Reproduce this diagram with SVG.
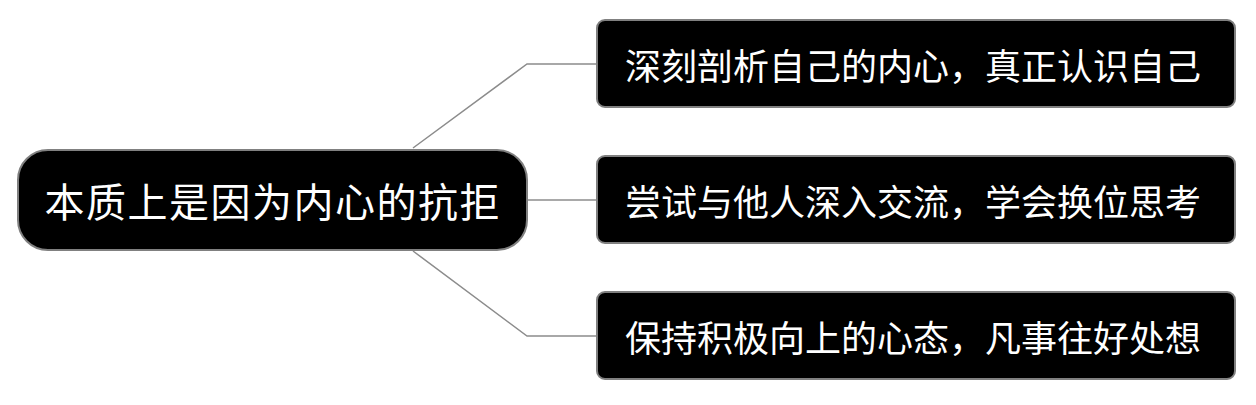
<svg xmlns="http://www.w3.org/2000/svg" width="1256" height="405" viewBox="0 0 1256 405">
<style>
.box{fill:#000;stroke:#808080;stroke-width:2}
.t{fill:#fff;font-family:"Noto Sans CJK SC","Noto Sans CJK JP",sans-serif;text-anchor:middle;dominant-baseline:central}
.c{fill:none;stroke:#8c8c8c;stroke-width:1.5}
</style>
<rect width="1256" height="405" fill="#fff"/>
<g id="connectors">
<polyline class="c" points="413,148 527,64 597,64"/>
<polyline class="c" points="527,200 597,200"/>
<polyline class="c" points="413,251 527,336 597,336"/>
</g>
<g id="root">
<rect class="box" x="18" y="150" width="509" height="100" rx="30"/>
<text class="t" x="272" y="200" font-size="40" textLength="455">本质上是因为内心的抗拒</text>
</g>
<g id="n1">
<rect class="box" x="597" y="20" width="638" height="87" rx="8"/>
<text class="t" x="913" y="64" font-size="36" textLength="576">深刻剖析自己的内心，真正认识自己</text>
</g>
<g id="n2">
<rect class="box" x="597" y="156" width="638" height="87" rx="8"/>
<text class="t" x="913" y="200" font-size="36" textLength="576">尝试与他人深入交流，学会换位思考</text>
</g>
<g id="n3">
<rect class="box" x="597" y="292" width="638" height="87" rx="8"/>
<text class="t" x="913" y="336" font-size="36" textLength="576">保持积极向上的心态，凡事往好处想</text>
</g>
</svg>
